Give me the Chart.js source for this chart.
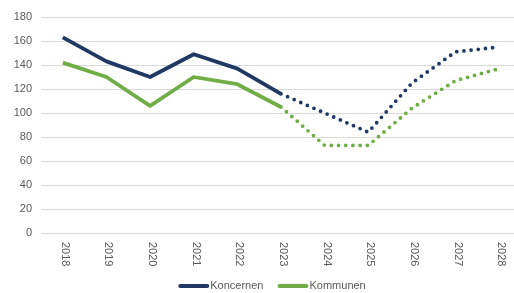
<!DOCTYPE html>
<html>
<head>
<meta charset="utf-8">
<script src="https://cdn.jsdelivr.net/npm/chart.js@4/dist/chart.umd.min.js"></script>
<style>
  html, body { margin: 0; padding: 0; background: #fff; overflow: hidden; }
  #wrap { width: 514px; height: 293px; overflow: hidden; }
  canvas { display: block; }
</style>
</head>
<body>
<div id="wrap"><canvas id="c" width="521" height="293"></canvas></div>
<script>
'use strict';

/* ── data ── */
const years = ['2018','2019','2020','2021','2022','2023','2024','2025','2026','2027','2028'];
const koncernen = [163, 143, 130, 149, 137, 116, 100, 84, 125, 151, 155];
const kommunen  = [142, 130, 106, 130, 124, 105, 73, 73, 104, 127, 137];
const yTicks = [0, 20, 40, 60, 80, 100, 120, 140, 160, 180];
const lastActual = 5; // 2023 = sista utfallsår, sedan prognos (prickad)

const NAVY = '#203864', GREEN = '#70ad47', TXT = '#595959', GRID = '#d9d9d9';
const FONT = '"Liberation Sans", Arial, sans-serif';

const dotted = ctx => ctx.p0DataIndex >= lastActual ? [0, 7.2] : undefined;
const dotCap = ctx => ctx.p0DataIndex >= lastActual ? 'round' : 'butt';

/* ── egna plugins: roterade årtal + legend ── */
const yearLabels = {
  id: 'yearLabels',
  afterDraw(chart) {
    const c = chart.ctx, xs = chart.scales.x, top = chart.chartArea.bottom + 9;
    c.save();
    c.font = '11px ' + FONT; c.fillStyle = TXT;
    c.textAlign = 'left'; c.textBaseline = 'middle';
    years.forEach((y, i) => {
      c.save();
      c.translate(xs.getPixelForValue(i) + 2, top);
      c.rotate(Math.PI / 2);
      c.fillText(y, 0, 0);
      c.restore();
    });
    c.restore();
  }
};

const bottomLegend = {
  id: 'bottomLegend',
  afterDraw(chart) {
    const c = chart.ctx, y = 286, lineW = 31, gap = 14;
    c.save();
    c.font = '11px ' + FONT; c.textBaseline = 'middle';
    const items = chart.data.datasets.map(d => ({ t: d.label, col: d.borderColor, w: c.measureText(d.label).width }));
    const total = items.reduce((s, it) => s + lineW + 1 + it.w, 0) + gap * (items.length - 1);
    let x = 272 - total / 2;
    items.forEach(it => {
      c.strokeStyle = it.col; c.lineWidth = 4; c.lineCap = 'round';
      c.beginPath(); c.moveTo(x + 2, y); c.lineTo(x + lineW - 2, y); c.stroke();
      c.fillStyle = TXT;
      c.fillText(it.t, x + lineW + 1, y);
      x += lineW + 1 + it.w + gap;
    });
    c.restore();
  }
};

new Chart(document.getElementById('c'), {
  type: 'line',
  data: {
    labels: years,
    datasets: [
      { label: 'Koncernen', data: koncernen, borderColor: NAVY, backgroundColor: NAVY,
        borderWidth: 3.8, pointRadius: 0, borderJoinStyle: 'round',
        segment: { borderDash: dotted, borderCapStyle: dotCap } },
      { label: 'Kommunen', data: kommunen, borderColor: GREEN, backgroundColor: GREEN,
        borderWidth: 3.8, pointRadius: 0, borderJoinStyle: 'round',
        segment: { borderDash: dotted, borderCapStyle: dotCap } }
    ]
  },
  options: {
    responsive: false,
    animation: false,
    devicePixelRatio: 1,
    layout: { padding: { top: 17, left: 0, right: 0, bottom: 0 } },
    plugins: { legend: { display: false }, tooltip: { enabled: false } },
    scales: {
      x: {
        offset: true,
        grid: { display: false },
        border: { display: false },
        ticks: { display: false },
        afterFit: s => { s.height = 60; }
      },
      y: {
        min: 0, max: 180,
        afterBuildTicks: s => { s.ticks = yTicks.map(v => ({ value: v })); },
        grid: { color: GRID, lineWidth: 1, drawTicks: false },
        border: { display: false },
        ticks: { color: TXT, font: { family: FONT, size: 11 }, padding: 9 },
        afterFit: s => { s.width = 41; }
      }
    }
  },
  plugins: [yearLabels, bottomLegend]
});
</script>
</body>
</html>
